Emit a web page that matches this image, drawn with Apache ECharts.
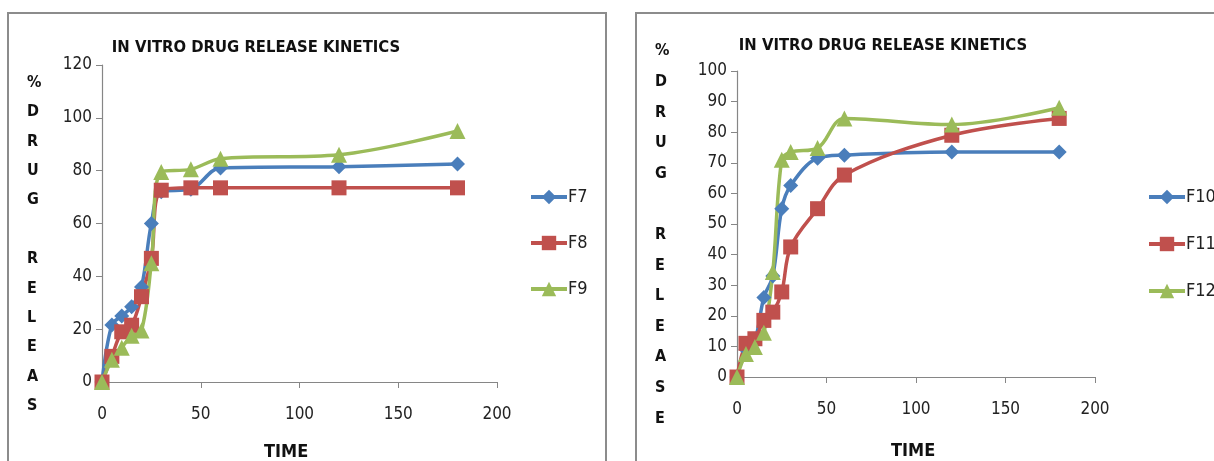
<!DOCTYPE html>
<html>
<head>
<meta charset="utf-8">
<script src="https://cdn.jsdelivr.net/npm/echarts@6/dist/echarts.min.js"></script>
<style>
html,body{margin:0;padding:0;background:#fff;}
#c{width:1214px;height:461px;}
</style>
</head>
<body>
<div id="c"></div>
<script>
var time = [0, 5, 10, 15, 20, 25, 30, 45, 60, 120, 180];
var F7  = [0, 21.6, 25, 28.5, 36, 60, 72, 73, 81, 81.5, 82.5];
var F8  = [0, 9.7, 19, 21.5, 32.3, 46.8, 72.6, 73.5, 73.5, 73.5, 73.5];
var F9  = [0, 8.4, 13, 17.5, 19.5, 45, 79.5, 80.5, 84.5, 86, 95];
var F10 = [0, 9, 12, 26, 33, 55, 62.6, 71.5, 72.5, 73.5, 73.5];
var F11 = [0, 11, 12.5, 18.5, 21.2, 27.8, 42.5, 55, 66, 79, 84.5];
var F12 = [0, 7.5, 9.8, 14.5, 34.3, 71, 73.5, 74.8, 84.5, 82.5, 88];
var leftYTicks = [0, 20, 40, 60, 80, 100, 120];
var rightYTicks = [0, 10, 20, 30, 40, 50, 60, 70, 80, 90, 100];
var xTicks = [0, 50, 100, 150, 200];
var titleText = 'IN VITRO DRUG RELEASE KINETICS';

var FONT = '"DejaVu Sans Condensed","Liberation Sans Narrow",sans-serif';
var BLUE = '#4a7ebb', RED = '#c0504d', GREEN = '#9bbb59';
var AXIS = '#868686';

function pairs(ys){ return time.map(function(t,i){ return [t, ys[i]]; }); }

function mk(name, ys, color, symbol, size, idx){
  return {
    name: name, type: 'line', xAxisIndex: idx, yAxisIndex: idx,
    data: pairs(ys), smooth: 0.35,
    symbol: symbol, symbolSize: size,
    lineStyle: {color: color, width: 3.5},
    itemStyle: {color: color},
    emphasis: {disabled: true}
  };
}

function xAxisDef(idx){
  return {
    gridIndex: idx, type: 'value', min: 0, max: 200, interval: 50,
    axisLine: {lineStyle: {color: AXIS, width: 1.2}},
    axisTick: {show: true, length: 6, lineStyle: {color: AXIS}},
    axisLabel: {color: '#222', fontFamily: FONT, fontSize: 17, margin: 24},
    splitLine: {show: false}
  };
}
function yAxisDef(idx, max, interval){
  return {
    gridIndex: idx, type: 'value', min: 0, max: max, interval: interval,
    axisLine: {show: true, lineStyle: {color: AXIS, width: 1.2}},
    axisTick: {show: true, length: 6, lineStyle: {color: AXIS}},
    axisLabel: {color: '#222', fontFamily: FONT, fontSize: 17, margin: 10},
    splitLine: {show: false}
  };
}

var chart = echarts.init(document.getElementById('c'));
var leftLetters = '%\nD\nR\nU\nG\n\nR\nE\nL\nE\nA\nS';
var rightLetters = '%\nD\nR\nU\nG\n\nR\nE\nL\nE\nA\nS\nE';

chart.setOption({
  backgroundColor: '#fff',
  animation: false,
  title: [
    {text: titleText, left: 251, top: 34, textAlign: 'center',
     textStyle: {fontFamily: FONT, fontWeight: 'bold', fontSize: 16.5, color: '#111'}},
    {text: titleText, left: 878, top: 32, textAlign: 'center',
     textStyle: {fontFamily: FONT, fontWeight: 'bold', fontSize: 16.5, color: '#111'}}
  ],
  grid: [
    {left: 102, top: 65, width: 395, height: 317},
    {left: 737, top: 71, width: 358, height: 306}
  ],
  xAxis: [xAxisDef(0), xAxisDef(1)],
  yAxis: [yAxisDef(0, 120, 20), yAxisDef(1, 100, 10)],
  legend: [
    {data: ['F7','F8','F9'], orient: 'vertical', left: 524, top: 183,
     itemWidth: 36, itemHeight: 18, itemGap: 28, itemStyle: {borderWidth: 0},
     lineStyle: {width: 4},
     textStyle: {fontFamily: FONT, fontSize: 18, color: '#222', padding: [0,0,0,-4]}},
    {data: ['F10','F11','F12'], orient: 'vertical', left: 1142, top: 183,
     itemWidth: 36, itemHeight: 18, itemGap: 29, itemStyle: {borderWidth: 0},
     lineStyle: {width: 4},
     textStyle: {fontFamily: FONT, fontSize: 18, color: '#222', padding: [0,0,0,-4]}}
  ],
  graphic: [
    {type: 'rect', shape: {x: 8, y: 13, width: 598, height: 470},
     style: {fill: 'none', stroke: '#8c8c8c', lineWidth: 2}, silent: true},
    {type: 'rect', shape: {x: 636, y: 13, width: 600, height: 470},
     style: {fill: 'none', stroke: '#8c8c8c', lineWidth: 2}, silent: true},
    {type: 'text', left: 27, top: 68,
     style: {text: leftLetters, fontFamily: FONT, fontWeight: 'bold', fontSize: 16,
             lineHeight: 29.4, fill: '#111', align: 'center'}},
    {type: 'text', left: 655, top: 36,
     style: {text: rightLetters, fontFamily: FONT, fontWeight: 'bold', fontSize: 16,
             lineHeight: 30.6, fill: '#111', align: 'center'}},
    {type: 'text', left: 264, top: 443,
     style: {text: 'TIME', fontFamily: FONT, fontWeight: 'bold', fontSize: 18, fill: '#111'}},
    {type: 'text', left: 891, top: 442,
     style: {text: 'TIME', fontFamily: FONT, fontWeight: 'bold', fontSize: 18, fill: '#111'}}
  ],
  series: [
    mk('F7', F7, BLUE, 'diamond', 15, 0),
    mk('F8', F8, RED, 'rect', 15, 0),
    mk('F9', F9, GREEN, 'triangle', 16, 0),
    mk('F10', F10, BLUE, 'diamond', 15, 1),
    mk('F11', F11, RED, 'rect', 15, 1),
    mk('F12', F12, GREEN, 'triangle', 16, 1)
  ]
});
</script>
</body>
</html>
